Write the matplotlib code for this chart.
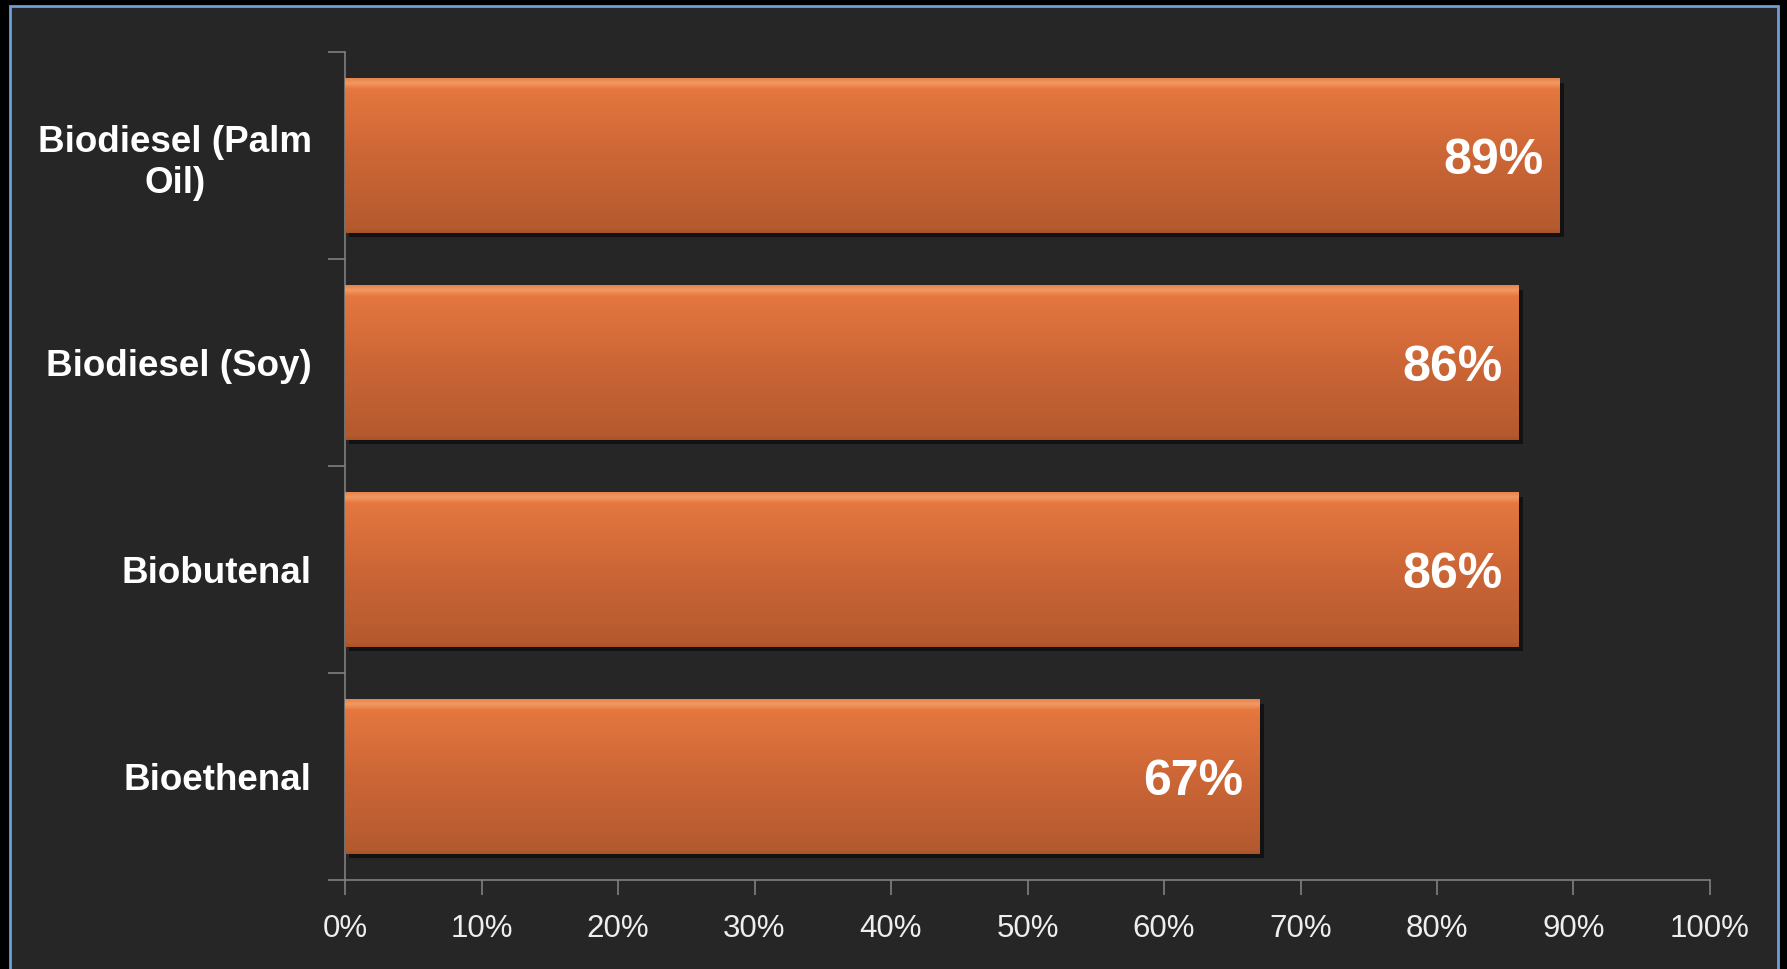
import matplotlib.pyplot as plt
import matplotlib.patches as mpatches
import matplotlib.patheffects as pe
import numpy as np
from matplotlib.colors import LinearSegmentedColormap
from matplotlib.ticker import PercentFormatter

categories = ['Biodiesel (Palm\nOil)', 'Biodiesel (Soy)', 'Biobutenal', 'Bioethenal']
values = [89, 86, 86, 67]
ticks = list(range(0, 101, 10))

plt.rcParams['font.family'] = ['Liberation Sans', 'DejaVu Sans']

fig = plt.figure(figsize=(17.87, 9.69), dpi=100, facecolor='black')
# slide frame: dark panel with thin blue border
frame = mpatches.Rectangle((10/1787, -0.02), 1768/1787, 1 - 6/969 + 0.02,
                           transform=fig.transFigure, facecolor='#262626',
                           edgecolor='#6f9fd8', linewidth=2, zorder=-5)
fig.patches.append(frame)

ax = fig.add_axes([345/1787, 1 - 880/969, 1365/1787, 828/969])
ax.set_facecolor('none')
ax.set_zorder(2)

ypos = np.arange(len(categories))[::-1]
bars = ax.barh(ypos, values, height=0.745, color='#d96c38', edgecolor='none', zorder=2,
               path_effects=[pe.SimplePatchShadow(offset=(3, -3), shadow_rgbFace='black', alpha=0.5), pe.Normal()])

cmap = LinearSegmentedColormap.from_list('bevel', [
    (0.0, '#a7542b'), (0.03, '#b45a2f'), (0.5, '#cc6636'),
    (0.93, '#e5773f'), (0.97, '#f29a62'), (1.0, '#e8834c')])
grad = np.linspace(0, 1, 256).reshape(-1, 1)
for b in bars:
    x0, y0 = b.get_x(), b.get_y()
    w, h = b.get_width(), b.get_height()
    im = ax.imshow(grad, cmap=cmap, aspect='auto', origin='lower',
                   extent=[x0, x0 + w, y0, y0 + h], zorder=3)
    im.set_clip_path(b)
    ax.text(x0 + w - 1.2, y0 + h / 2 - 0.025, f'{w:.0f}%', ha='right', va='center',
            color='white', fontsize=36, fontweight='bold', zorder=4)

ax.set_xlim(0, 100)
ax.set_ylim(-0.5, len(categories) - 0.5)
ax.set_xticks(ticks)
ax.xaxis.set_major_formatter(PercentFormatter(decimals=0))
ax.set_yticks(ypos)
ax.set_yticklabels(categories, fontsize=26.5, fontweight='bold', color='white',
                   ha='right', multialignment='center', linespacing=1.25)
ax.set_yticks(np.arange(-0.5, len(categories)), minor=True)
ax.tick_params(axis='y', which='major', length=0, pad=24)
ax.tick_params(axis='y', which='minor', length=12, color='#808080', width=1.2)
ax.tick_params(axis='x', length=11, color='#808080', width=1.2, labelsize=22.5,
               labelcolor='#eeeeee', pad=13.5)
for s in ['top', 'right']:
    ax.spines[s].set_visible(False)
for s in ['left', 'bottom']:
    ax.spines[s].set_color('#808080')
    ax.spines[s].set_linewidth(1.2)

fig.savefig('out.png', dpi=100, facecolor=fig.get_facecolor())
